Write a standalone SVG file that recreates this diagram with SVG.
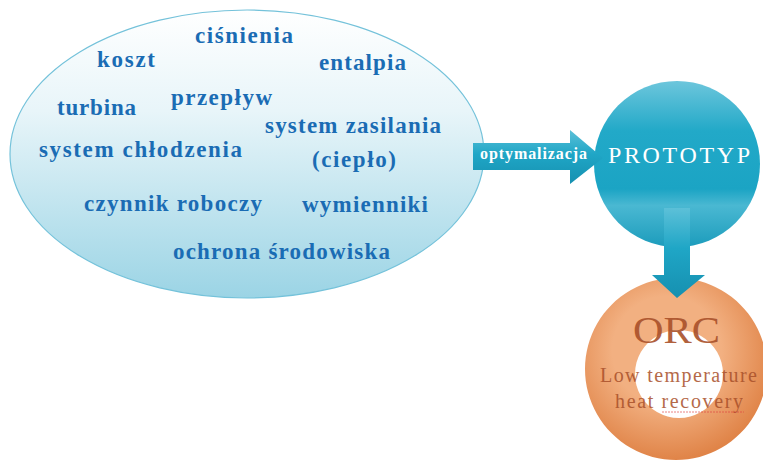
<svg xmlns="http://www.w3.org/2000/svg" width="763" height="461" viewBox="0 0 763 461">
<defs>
<linearGradient id="gEll" x1="0" y1="0" x2="0" y2="1">
<stop offset="0" stop-color="#ffffff"/>
<stop offset="0.35" stop-color="#e8f5f9"/>
<stop offset="1" stop-color="#9bd4e5"/>
</linearGradient>
<linearGradient id="gTeal" x1="0" y1="0" x2="0" y2="1">
<stop offset="0" stop-color="#5cc0d8"/>
<stop offset="0.45" stop-color="#1fa6c6"/>
<stop offset="1" stop-color="#1690b0"/>
</linearGradient>
<linearGradient id="gCirc" x1="0" y1="0" x2="0" y2="1">
<stop offset="0" stop-color="#6dc6dc"/>
<stop offset="0.3" stop-color="#22a9c8"/>
<stop offset="0.65" stop-color="#1ba4c4"/>
<stop offset="0.75" stop-color="#4ab8d2"/>
<stop offset="1" stop-color="#1c9cbc"/>
</linearGradient>
<radialGradient id="gRing" cx="0.45" cy="0.4" r="0.6">
<stop offset="0.5" stop-color="#f2b081"/>
<stop offset="1" stop-color="#e08448"/>
</radialGradient>
<style>
.w{font-family:"Liberation Serif","DejaVu Serif",serif;font-weight:bold;font-size:23px;fill:#1a6cb4}
.wt{font-family:"Liberation Serif","DejaVu Serif",serif;fill:#ffffff}
.orc{font-family:"Liberation Serif","DejaVu Serif",serif;fill:#a9502a}
</style>
</defs>
<g id="words">
<ellipse cx="247" cy="154" rx="237" ry="144" fill="url(#gEll)" stroke="#74c2da" stroke-width="1.2"/>
<text class="w" x="195" y="43" textLength="98" lengthAdjust="spacing">ciśnienia</text>
<text class="w" x="97" y="67" textLength="58" lengthAdjust="spacing">koszt</text>
<text class="w" x="319" y="70" textLength="87" lengthAdjust="spacing">entalpia</text>
<text class="w" x="57" y="115" textLength="79" lengthAdjust="spacing">turbina</text>
<text class="w" x="171" y="105" textLength="101" lengthAdjust="spacing">przepływ</text>
<text class="w" x="265" y="133" textLength="176" lengthAdjust="spacing">system zasilania</text>
<text class="w" x="39" y="157" textLength="203" lengthAdjust="spacing">system chłodzenia</text>
<text class="w" x="312" y="167" textLength="84" lengthAdjust="spacing">(ciepło)</text>
<text class="w" x="84" y="211" textLength="178" lengthAdjust="spacing">czynnik roboczy</text>
<text class="w" x="302" y="212" textLength="126" lengthAdjust="spacing">wymienniki</text>
<text class="w" x="173" y="259" textLength="217" lengthAdjust="spacing">ochrona środowiska</text>
</g>
<g id="prototyp">
<circle cx="677" cy="164" r="83" fill="url(#gCirc)"/>
<text class="wt" x="608" y="163" font-size="24" textLength="142" lengthAdjust="spacing">PROTOTYP</text>
</g>
<g id="orc">
<path d="M676 278 a91 91 0 1 0 0.01 0 Z M679 330 a44 44 0 1 1 -0.01 0 Z" fill="url(#gRing)" fill-rule="evenodd"/>
<text class="orc" x="633" y="343" font-size="37" textLength="87" lengthAdjust="spacingAndGlyphs" opacity="0.9">ORC</text>
<text class="orc" x="600" y="382" font-size="20" textLength="157" lengthAdjust="spacing" opacity="0.85">Low temperature</text>
<text class="orc" x="615" y="408" font-size="20" textLength="128" lengthAdjust="spacing" opacity="0.85">heat recovery</text>
<path d="M662 412 L744 412" stroke="#e04040" stroke-width="0.8" stroke-dasharray="2 1" opacity="0.8"/>
</g>
<g id="connectors">
<path d="M473 143 L570 143 L570 130 L603 158 L570 184 L570 170 L473 170 Z" fill="url(#gTeal)"/>
<text class="wt" x="480" y="159" font-size="16" font-weight="bold" textLength="107" lengthAdjust="spacing">optymalizacja</text>
<path d="M664 208 L690 208 L690 275 L705 275 L677 298 L652 275 L664 275 Z" fill="url(#gTeal)"/>
</g>
</svg>
